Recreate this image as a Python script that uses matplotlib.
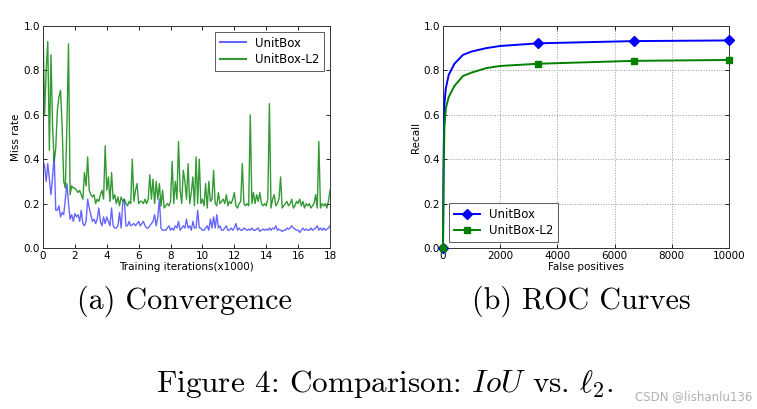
import numpy as np
import matplotlib
matplotlib.use("Agg")
import matplotlib.pyplot as plt

plt.rcParams['mathtext.fontset'] = 'cm'
plt.rcParams['font.family'] = 'DejaVu Sans'

# (a) Convergence: miss rate every 100 iterations, 0..18000
iterations = np.arange(0, 18.01, 0.1)
miss_unitbox = [
    0.39, 0.37, 0.30, 0.38, 0.31, 0.24, 0.32, 0.42, 0.17, 0.17,
    0.19, 0.14, 0.16, 0.15, 0.22, 0.29, 0.20, 0.13, 0.15, 0.12,
    0.155, 0.14, 0.15, 0.12, 0.17, 0.11, 0.10, 0.12, 0.22, 0.18,
    0.15, 0.12, 0.13, 0.11, 0.13, 0.18, 0.12, 0.10, 0.14, 0.11,
    0.14, 0.12, 0.10, 0.18, 0.10, 0.09, 0.09, 0.10, 0.16, 0.09,
    0.20, 0.22, 0.10, 0.10, 0.12, 0.10, 0.105, 0.11, 0.10, 0.11,
    0.12, 0.10, 0.11, 0.12, 0.10, 0.09, 0.09, 0.10, 0.11, 0.12,
    0.15, 0.10, 0.14, 0.22, 0.09, 0.08, 0.08, 0.08, 0.09, 0.10,
    0.08, 0.09, 0.08, 0.10, 0.09, 0.12, 0.08, 0.09, 0.10, 0.09,
    0.13, 0.09, 0.10, 0.08, 0.12, 0.09, 0.09, 0.17, 0.09, 0.09,
    0.08, 0.08, 0.09, 0.10, 0.08, 0.13, 0.09, 0.14, 0.09, 0.15,
    0.09, 0.10, 0.08, 0.08, 0.09, 0.10, 0.08, 0.08, 0.09, 0.08,
    0.09, 0.11, 0.08, 0.09, 0.08, 0.08, 0.09, 0.085, 0.08, 0.085,
    0.08, 0.09, 0.08, 0.08, 0.085, 0.09, 0.075, 0.08, 0.085, 0.08,
    0.085, 0.08, 0.09, 0.08, 0.09, 0.085, 0.10, 0.08, 0.085, 0.08,
    0.075, 0.08, 0.08, 0.09, 0.085, 0.09, 0.10, 0.09, 0.085, 0.08,
    0.08, 0.07, 0.08, 0.09, 0.08, 0.085, 0.08, 0.08, 0.09, 0.08,
    0.085, 0.09, 0.10, 0.08, 0.09, 0.08, 0.09, 0.08, 0.085, 0.09,
    0.10,
]
miss_l2 = [
    1.00, 0.60, 0.80, 0.93, 0.44, 0.87, 0.55, 0.39, 0.45, 0.62,
    0.68, 0.71, 0.55, 0.30, 0.27, 0.55, 0.92, 0.24, 0.28, 0.27,
    0.27, 0.26, 0.25, 0.26, 0.24, 0.22, 0.34, 0.28, 0.41, 0.26,
    0.24, 0.23, 0.24, 0.20, 0.22, 0.21, 0.24, 0.26, 0.22, 0.46,
    0.26, 0.32, 0.21, 0.34, 0.22, 0.24, 0.20, 0.23, 0.19, 0.23,
    0.21, 0.22, 0.20, 0.19, 0.21, 0.20, 0.40, 0.21, 0.26, 0.29,
    0.20, 0.21, 0.21, 0.20, 0.22, 0.20, 0.22, 0.33, 0.22, 0.31,
    0.20, 0.30, 0.22, 0.29, 0.19, 0.26, 0.18, 0.19, 0.20, 0.19,
    0.21, 0.39, 0.20, 0.30, 0.22, 0.48, 0.26, 0.20, 0.35, 0.30,
    0.22, 0.38, 0.20, 0.25, 0.32, 0.19, 0.41, 0.20, 0.40, 0.20,
    0.22, 0.19, 0.29, 0.18, 0.30, 0.21, 0.22, 0.35, 0.20, 0.19,
    0.25, 0.20, 0.21, 0.22, 0.20, 0.24, 0.19, 0.21, 0.20, 0.22,
    0.25, 0.19, 0.18, 0.20, 0.21, 0.38, 0.20, 0.19, 0.20, 0.19,
    0.60, 0.20, 0.25, 0.20, 0.24, 0.21, 0.25, 0.20, 0.19, 0.20,
    0.19, 0.22, 0.65, 0.18, 0.22, 0.24, 0.19, 0.20, 0.22, 0.32,
    0.18, 0.19, 0.20, 0.21, 0.19, 0.20, 0.22, 0.18, 0.19, 0.21,
    0.20, 0.22, 0.19, 0.21, 0.18, 0.20, 0.19, 0.20, 0.18, 0.19,
    0.20, 0.24, 0.18, 0.48, 0.18, 0.20, 0.19, 0.20, 0.18, 0.21,
    0.26,
]

# (b) ROC curves
false_pos = [0, 20, 50, 100, 200, 400, 700, 1000, 1500, 2000, 3333, 6667, 10000]
recall_unitbox = [0.0, 0.40, 0.65, 0.72, 0.78, 0.83, 0.87, 0.885, 0.90, 0.91, 0.922, 0.932, 0.935]
recall_l2 = [0.0, 0.30, 0.55, 0.63, 0.68, 0.73, 0.775, 0.79, 0.81, 0.82, 0.83, 0.843, 0.847]
marker_idx = [0, 10, 11, 12]

W, H = 757, 409
fig = plt.figure(figsize=(W / 100, H / 100), dpi=100)

def ax_rect(l, t, r, b):
    return [l / W, 1 - b / H, (r - l) / W, (b - t) / H]

def style_axes(ax):
    ax.tick_params(direction='in', top=True, right=True, labelsize=7.5,
                   length=3, width=0.6, pad=2)
    for s in ax.spines.values():
        s.set_linewidth(0.7)
        s.set_color('#333333')

# left panel
ax1 = fig.add_axes(ax_rect(43, 26, 330, 248))
ax1.plot(iterations, miss_unitbox, color='b', alpha=0.6, lw=1.0, label='UnitBox')
ax1.plot(iterations, miss_l2, color='g', alpha=0.8, lw=1.0, label='UnitBox-L2')
ax1.set_xlim(0, 18)
ax1.set_ylim(0, 1.0)
ax1.set_xticks(np.arange(0, 19, 2))
ax1.set_yticks(np.arange(0, 1.01, 0.2))
ax1.set_xlabel('Training iterations(x1000)', fontsize=7.5, labelpad=1)
ax1.set_ylabel('Miss rate', fontsize=7.5, labelpad=2)
style_axes(ax1)
leg1 = ax1.legend(loc='upper right', fontsize=8.5, fancybox=False,
                  handlelength=2.2, borderpad=0.4, labelspacing=0.3)
leg1.get_frame().set_edgecolor('#333333')
leg1.get_frame().set_linewidth(0.7)
for h in leg1.get_lines():
    h.set_linewidth(1.5)

# right panel
ax2 = fig.add_axes(ax_rect(443, 26, 729, 248))
ax2.plot(false_pos, recall_unitbox, color='b', lw=1.4, marker='D', ms=5,
         markevery=marker_idx, label='UnitBox', clip_on=False, zorder=3)
ax2.plot(false_pos, recall_l2, color='g', lw=1.4, marker='s', ms=5,
         markevery=marker_idx, label='UnitBox-L2', clip_on=False, zorder=3)
ax2.set_xlim(0, 10000)
ax2.set_ylim(0, 1.0)
ax2.set_xticks(np.arange(0, 10001, 2000))
ax2.set_yticks(np.arange(0, 1.01, 0.2))
ax2.grid(True, linestyle=':', color='#999999', linewidth=0.7)
ax2.set_xlabel('False positives', fontsize=7.5, labelpad=1)
ax2.set_ylabel('Recall', fontsize=7.5, labelpad=2)
style_axes(ax2)
leg2 = ax2.legend(loc='lower left', fontsize=8.5, fancybox=False,
                  handlelength=2.2, borderpad=0.4, labelspacing=0.3)
leg2.get_frame().set_edgecolor('#333333')
leg2.get_frame().set_linewidth(0.7)

# captions (Computer Modern, as in the paper)
cap = dict(family='cmr10', ha='center', va='center')
fig.text(184 / W, 1 - 301 / H, '(a) Convergence', fontsize=21.7, **cap)
fig.text(581 / W, 1 - 301 / H, '(b) ROC Curves', fontsize=21.7, **cap)
fig.text(385 / W, 1 - 384 / H,
         r'Figure 4: Comparison: $IoU$ vs. $\ell_2$.', fontsize=22.5, **cap)
fig.text(752 / W, 1 - 397 / H, 'CSDN @lishanlu136', fontsize=8.5,
         color='#b0b0b0', ha='right', va='center')

fig.savefig('out.png', dpi=100)
